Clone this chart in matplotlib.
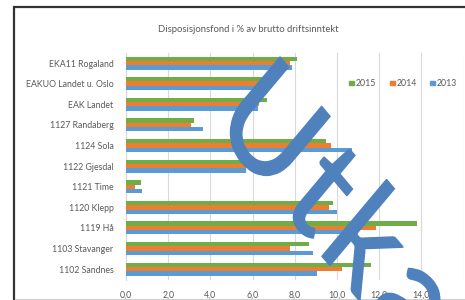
import matplotlib
matplotlib.use("Agg")
import matplotlib.pyplot as plt
import numpy as np
from matplotlib.textpath import TextPath, TextToPath
from matplotlib.patches import PathPatch, Rectangle
from matplotlib.font_manager import FontProperties
import matplotlib.transforms as mtransforms

categories = ["EKA11 Rogaland", "EAKUO Landet u. Oslo", "EAK Landet", "1127 Randaberg",
              "1124 Sola", "1122 Gjesdal", "1121 Time", "1120 Klepp", "1119 Hå",
              "1103 Stavanger", "1102 Sandnes"]
v2015 = [8.1, 6.9, 6.7, 3.2, 9.5, 5.5, 0.7, 9.8, 13.8, 8.65, 11.6]
v2014 = [7.75, 6.6, 6.3, 3.1, 9.7, 5.8, 0.45, 9.6, 11.85, 7.75, 10.25]
v2013 = [7.85, 6.5, 6.25, 3.65, 10.7, 5.7, 0.75, 10.0, 11.0, 8.85, 9.05]
series_labels = ["2015", "2014", "2013"]
xticks = [0, 2, 4, 6, 8, 10, 12, 14]
xmax = 16
title = "Disposisjonsfond i % av brutto driftsinntekt"
watermark = "Utkast"

colors = ["#70AD47", "#ED7D31", "#5B9BD5"]
txtc = "#595959"
FONT = "Lato"

W, H = 465, 300
fig = plt.figure(figsize=(W / 100, H / 100), dpi=100)

def px(x, y):
    return x / W, 1 - y / H

# axes
left = 126 / W
right = 463.6 / W
top_img, bot_img = 52.7, 279.5
ax = fig.add_axes([left, 1 - bot_img / H, right - left, (bot_img - top_img) / H])
n = len(categories)
y = np.arange(n)
bh = 0.21
for i, (vals, c) in enumerate(zip([v2015, v2014, v2013], colors)):
    ax.barh(y + (i - 1) * bh, vals, height=bh, color=c, zorder=3)
ax.set_ylim(n - 0.5, -0.5)
ax.set_xlim(0, xmax)
ax.set_xticks(xticks)
ax.set_xticks([xmax], minor=True)
ax.set_xticklabels([f"{t:.1f}".replace(".", ",") for t in xticks])
ax.set_yticks(y)
ax.set_yticklabels(categories)
ax.tick_params(axis="both", which="both", length=0, labelsize=6.3, colors=txtc, pad=8)
ax.tick_params(axis="y", pad=9)
for lab in ax.get_xticklabels() + ax.get_yticklabels():
    lab.set_family(FONT)
ax.grid(axis="x", which="both", color="#D9D9D9", lw=0.8, zorder=0)
for s in ["top", "right", "bottom"]:
    ax.spines[s].set_visible(False)
ax.spines["left"].set_color("#D9D9D9")
ax.set_facecolor("none")

# title
fig.text(*px(248, 29), title, ha="center", va="center", fontsize=6.8,
         color=txtc, family=FONT)

# legend
for xm, xt, lab, c in zip([351.7, 392.3, 432.7], [355.5, 396.5, 437], series_labels, colors):
    fig.patches.append(Rectangle(px(xm - 2.3, 83 + 2.3), 4.6 / W, 4.6 / H,
                                 transform=fig.transFigure, color=c, figure=fig))
    fig.text(*px(xt, 83.5), lab, ha="left", va="center", fontsize=6.3,
             color=txtc, family=FONT)

# border
fig.patches.append(Rectangle(px(14, 330), (W + 40) / W, 323 / H, transform=fig.transFigure,
                             fill=False, edgecolor="#333333", lw=1.6, figure=fig))
fig.add_artist(plt.Line2D([15 / W, 1], [0.6 / H, 0.6 / H], color="#D0D0D0", lw=0.8,
                          transform=fig.transFigure))

# watermark (letters placed one by one with a little extra tracking)
wfp = FontProperties(family=FONT, size=124)
ttp = TextToPath()
tracking = 7.0
tr = mtransforms.Affine2D().rotate_deg(-45).scale(1, 1.19).translate(210, 177)
for i, ch in enumerate(watermark):
    xoff = ttp.get_text_width_height_descent(watermark[:i], wfp, ismath=False)[0] if i else 0.0
    xoff += i * tracking
    gp = TextPath((xoff, 0), ch, prop=wfp)
    fig.add_artist(PathPatch(gp, transform=tr, facecolor="#4F81BD", edgecolor="#4F81BD",
                             lw=1.0, zorder=10))

fig.savefig("out.png", dpi=100)
